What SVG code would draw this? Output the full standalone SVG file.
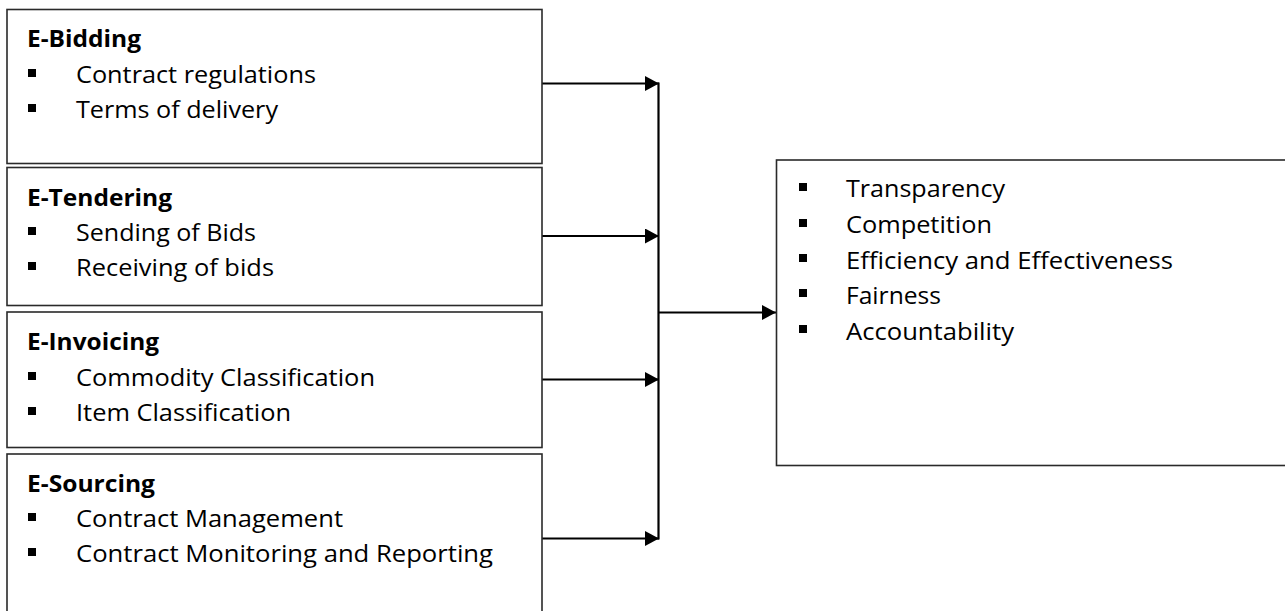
<svg xmlns="http://www.w3.org/2000/svg" width="1285" height="611" viewBox="0 0 1285 611">
<style>
.box{fill:#fff;stroke:#2a2a2a;stroke-width:1.6}
.h{font-family:"Open Sans","Noto Sans",sans-serif;font-weight:bold;font-size:23px;fill:#000}
.t{font-family:"Open Sans","Noto Sans",sans-serif;font-size:24px;fill:#000}
.b{fill:#000}
.c{stroke:#000;stroke-width:2.2;fill:none}
</style>
<defs>
<marker id="ah" markerUnits="userSpaceOnUse" markerWidth="16" markerHeight="16" refX="14" refY="7.5" orient="auto">
<path d="M0,0 L14,7.5 L0,15 Z" fill="#000"/>
</marker>
</defs>
<rect width="1285" height="611" fill="#fff"/>
<g id="connectors">
<line class="c" x1="542" y1="83.5" x2="659" y2="83.5" marker-end="url(#ah)"/>
<line class="c" x1="542" y1="236" x2="659" y2="236" marker-end="url(#ah)"/>
<line class="c" x1="542" y1="379.5" x2="659" y2="379.5" marker-end="url(#ah)"/>
<line class="c" x1="542" y1="538.5" x2="659" y2="538.5" marker-end="url(#ah)"/>
<line class="c" x1="658.5" y1="82.5" x2="658.5" y2="539.5"/>
<line class="c" x1="658.5" y1="312.5" x2="776" y2="312.5" marker-end="url(#ah)"/>
</g>
<g id="e-bidding">
<rect class="box" x="7" y="9.5" width="535" height="154"/>
<text class="h" x="27" y="47" textLength="114" lengthAdjust="spacingAndGlyphs">E-Bidding</text>
<rect class="b" x="28" y="69" width="8" height="8"/>
<text class="t" x="76" y="83" textLength="240" lengthAdjust="spacingAndGlyphs">Contract regulations</text>
<rect class="b" x="28" y="104" width="8" height="8"/>
<text class="t" x="76" y="118" textLength="202" lengthAdjust="spacingAndGlyphs">Terms of delivery</text>
</g>
<g id="e-tendering">
<rect class="box" x="7" y="167.5" width="535" height="138"/>
<text class="h" x="27" y="206" textLength="145" lengthAdjust="spacingAndGlyphs">E-Tendering</text>
<rect class="b" x="28" y="227" width="8" height="8"/>
<text class="t" x="76" y="241" textLength="180" lengthAdjust="spacingAndGlyphs">Sending of Bids</text>
<rect class="b" x="28" y="262" width="8" height="8"/>
<text class="t" x="76" y="276" textLength="198" lengthAdjust="spacingAndGlyphs">Receiving of bids</text>
</g>
<g id="e-invoicing">
<rect class="box" x="7" y="312" width="535" height="135.5"/>
<text class="h" x="27" y="350" textLength="132" lengthAdjust="spacingAndGlyphs">E-Invoicing</text>
<rect class="b" x="28" y="372" width="8" height="8"/>
<text class="t" x="76" y="386" textLength="299" lengthAdjust="spacingAndGlyphs">Commodity Classification</text>
<rect class="b" x="28" y="407" width="8" height="8"/>
<text class="t" x="76" y="421" textLength="215" lengthAdjust="spacingAndGlyphs">Item Classification</text>
</g>
<g id="e-sourcing">
<rect class="box" x="7" y="454" width="535" height="170"/>
<text class="h" x="27" y="492" textLength="128" lengthAdjust="spacingAndGlyphs">E-Sourcing</text>
<rect class="b" x="28" y="513" width="8" height="8"/>
<text class="t" x="76" y="527" textLength="267" lengthAdjust="spacingAndGlyphs">Contract Management</text>
<rect class="b" x="28" y="548" width="8" height="8"/>
<text class="t" x="76" y="562" textLength="417" lengthAdjust="spacingAndGlyphs">Contract Monitoring and Reporting</text>
</g>
<g id="outcomes">
<rect class="box" x="776.5" y="160" width="530" height="305.5"/>
<rect class="b" x="799" y="183" width="8" height="8"/>
<text class="t" x="846" y="197" textLength="159" lengthAdjust="spacingAndGlyphs">Transparency</text>
<rect class="b" x="799" y="219" width="8" height="8"/>
<text class="t" x="846" y="233" textLength="146" lengthAdjust="spacingAndGlyphs">Competition</text>
<rect class="b" x="799" y="254" width="8" height="8"/>
<text class="t" x="846" y="268.5" textLength="327" lengthAdjust="spacingAndGlyphs">Efficiency and Effectiveness</text>
<rect class="b" x="799" y="289" width="8" height="8"/>
<text class="t" x="846" y="304" textLength="95" lengthAdjust="spacingAndGlyphs">Fairness</text>
<rect class="b" x="799" y="325" width="8" height="8"/>
<text class="t" x="846" y="339.5" textLength="168" lengthAdjust="spacingAndGlyphs">Accountability</text>
</g>
</svg>
